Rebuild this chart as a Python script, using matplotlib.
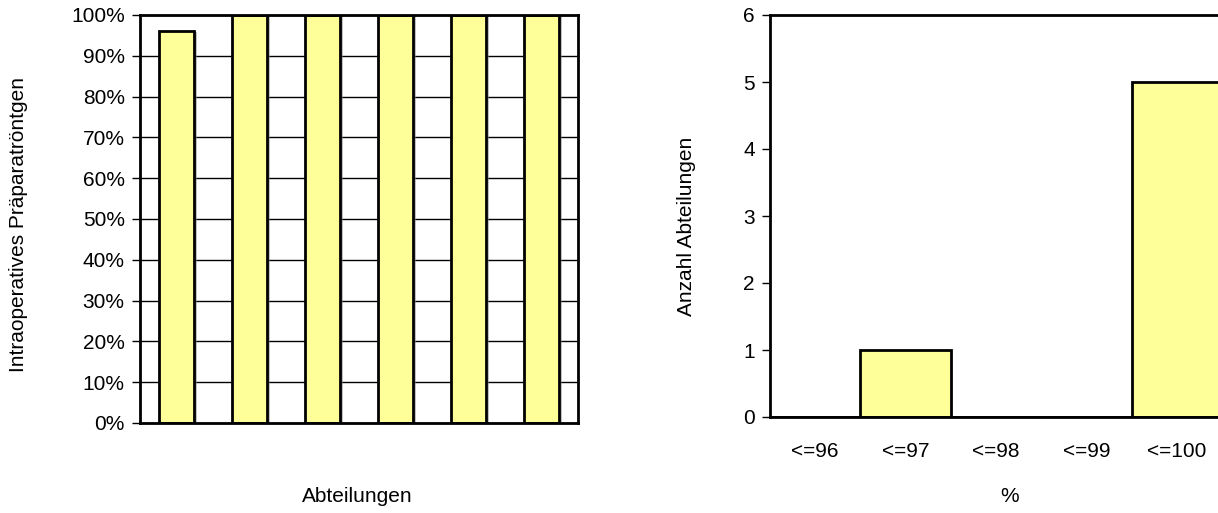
import matplotlib.pyplot as plt
import matplotlib.patheffects as pe
from matplotlib.ticker import PercentFormatter

plt.rcParams['font.family'] = ['Liberation Sans', 'DejaVu Sans']

# Daten
abteilungen = ['A1', 'A2', 'A3', 'A4', 'A5', 'A6']
quote = [96.1, 100, 100, 100, 100, 100]

klassen = ['<=96', '<=97', '<=98', '<=99', '<=100']
anzahl = [0, 1, 0, 0, 5]

gelb = '#FFFF99'
fs = 15

fig = plt.figure(figsize=(12.18, 5.13), dpi=100)

# linkes Diagramm
ax1 = fig.add_axes([140/1218, 1-423/513, 438/1218, 408/513])
ax1.set_axisbelow(True)
ax1.yaxis.grid(True, color='black', linewidth=1)
bars = ax1.bar(range(len(abteilungen)), quote, width=0.48, color=gelb,
               edgecolor='black', linewidth=2)
for b in bars:
    b.set_path_effects([pe.SimplePatchShadow(offset=(2, -1), shadow_rgbFace='grey', alpha=0.5), pe.Normal()])
ax1.set_xlim(-0.5, len(abteilungen) - 0.5)
ax1.set_ylim(0, 100)
ax1.set_yticks(range(0, 101, 10))
ax1.yaxis.set_major_formatter(PercentFormatter(decimals=0))
ax1.set_xticks([])
ax1.tick_params(axis='y', labelsize=fs, length=6, width=1, direction='out', pad=5)
for s in ax1.spines.values():
    s.set_linewidth(2)
fig.text(19/1218, 1-225/513, 'Intraoperatives Präparatröntgen', rotation=90,
         ha='center', va='center', fontsize=fs)
fig.text(357/1218, 1-497/513, 'Abteilungen', ha='center', va='center', fontsize=fs)

# rechtes Diagramm
ax2 = fig.add_axes([770/1218, 1-417/513, 452/1218, 402/513])
bars2 = ax2.bar(range(len(klassen)), anzahl, width=1.0, color=gelb,
                edgecolor='black', linewidth=2)
ax2.set_xlim(-0.5, len(klassen) - 0.5)
ax2.set_ylim(0, 6)
ax2.set_yticks(range(0, 7))
ax2.set_xticks(range(len(klassen)))
ax2.set_xticklabels(klassen)
ax2.tick_params(axis='x', length=0, labelsize=fs, pad=18)
ax2.tick_params(axis='y', labelsize=fs, length=6, width=1, direction='out', pad=5)
for s in ax2.spines.values():
    s.set_linewidth(2)
fig.text(687/1218, 1-226/513, 'Anzahl Abteilungen', rotation=90,
         ha='center', va='center', fontsize=fs)
fig.text(1010/1218, 1-497/513, '%', ha='center', va='center', fontsize=fs)

fig.savefig('out.png', dpi=100)
